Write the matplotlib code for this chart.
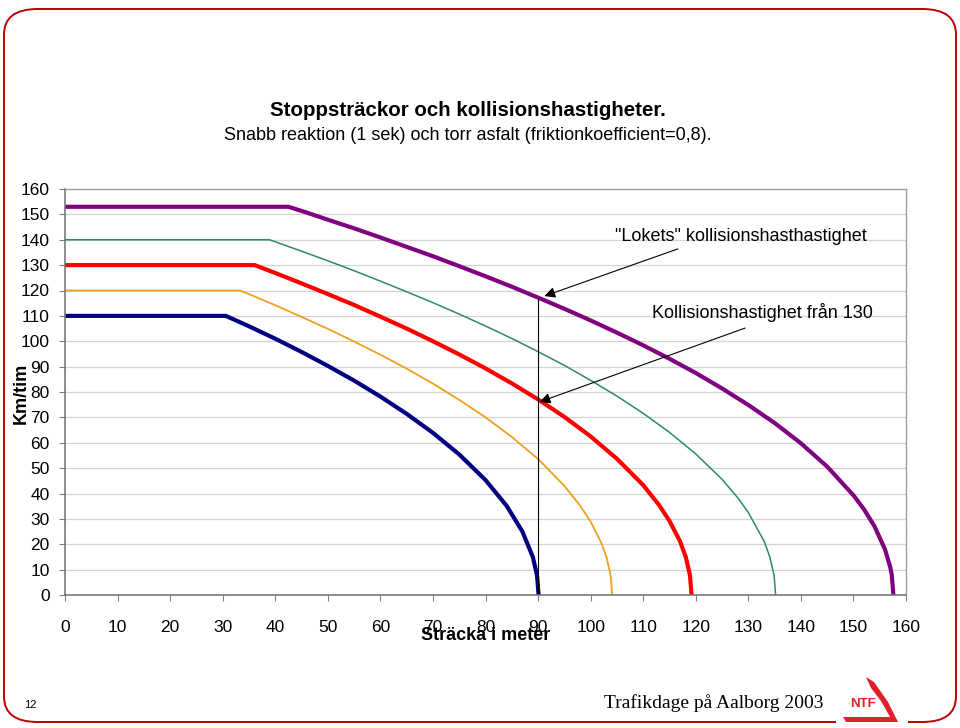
import matplotlib
matplotlib.use("Agg")
import matplotlib.pyplot as plt
from matplotlib.patches import FancyBboxPatch, Rectangle, Polygon

plt.rcParams['font.family'] = ['Liberation Sans', 'DejaVu Sans']

# ---- data ----
navy_x = [0, 30.6, 35, 40, 45, 50, 55, 60, 65, 70, 75, 80, 84, 87, 89, 89.8, 90.1]
navy_y = [110, 110, 105.9, 101.0, 95.8, 90.3, 84.5, 78.2, 71.4, 63.9, 55.4, 45.3, 35.2, 25.1, 15.0, 7.8, 0]

orange_x = [0, 33.3, 36, 40, 45, 50, 55, 60, 65, 70, 75, 80, 85, 90, 95, 98, 100, 102, 103, 103.8, 104.1]
orange_y = [120, 120, 117.7, 114.2, 109.6, 104.9, 99.9, 94.7, 89.2, 83.3, 76.9, 70.0, 62.3, 53.6, 43.0, 35.2, 28.9, 20.7, 15.0, 7.8, 0]

red_x = [0, 36.1, 40, 45, 50, 55, 60, 65, 70, 75, 80, 85, 90, 95, 100, 105, 110, 113, 115, 117, 118.1, 118.9, 119.2]
red_y = [130, 130, 126.9, 122.8, 118.6, 114.3, 109.7, 105.0, 100.0, 94.8, 89.3, 83.4, 77.1, 70.2, 62.5, 53.7, 43.3, 35.5, 29.2, 21.2, 15.0, 7.8, 0]

green_x = [0, 38.9, 40, 45, 50, 55, 60, 65, 70, 75, 80, 85, 90, 95, 100, 105, 110, 115, 120, 125, 128, 130, 133, 134.1, 134.9, 135.2]
green_y = [140, 140, 139.2, 135.5, 131.7, 127.8, 123.7, 119.5, 115.2, 110.7, 106.0, 101.1, 95.9, 90.5, 84.6, 78.4, 71.6, 64.1, 55.6, 45.6, 38.3, 32.5, 21.2, 15.0, 7.8, 0]

purple_x = [0, 42.5, 46, 50, 55, 60, 65, 70, 75, 80, 85, 90, 95, 100, 105, 110, 115, 120, 125, 130, 135, 140, 145, 150, 152, 154, 156, 157, 157.3, 157.6]
purple_y = [153, 153, 150.7, 147.9, 144.5, 140.9, 137.2, 133.5, 129.6, 125.6, 121.5, 117.2, 112.8, 108.2, 103.4, 98.4, 93.1, 87.5, 81.4, 74.9, 67.8, 59.8, 50.6, 39.3, 33.8, 27.1, 18.0, 11.0, 7.8, 0]

collision_x = 90
loket_speed = 117.2
speed130_collision = 77.1

x_ticks = list(range(0, 161, 10))
y_ticks = list(range(0, 161, 10))

# ---- figure ----
fig = plt.figure(figsize=(9.6, 7.28), dpi=100)
W, H = 960, 728

def fx(px):
    return px / W

def fy(py):
    return 1 - py / H

# slide frame
frame = FancyBboxPatch((fx(4), fy(722)), fx(952), (718 - 5) / H,
                       boxstyle="round,pad=0,rounding_size=0.035",
                       transform=fig.transFigure, fill=False,
                       edgecolor='#C00000', linewidth=1.4)
fig.patches.append(frame)
fig.patches.append(Rectangle((fx(836), fy(728)), fx(72), 12 / H,
                             transform=fig.transFigure, facecolor='white',
                             edgecolor='none'))

ax = fig.add_axes([fx(65), fy(595), fx(906 - 65), (595 - 189) / H])

ax.plot(navy_x, navy_y, color='#000080', lw=3.0, solid_joinstyle='round')
ax.plot(orange_x, orange_y, color='#F0A020', lw=1.3)
ax.plot(red_x, red_y, color='#FF0000', lw=3.0, solid_joinstyle='round')
ax.plot(green_x, green_y, color='#2E8B60', lw=1.1)
ax.plot(purple_x, purple_y, color='#800080', lw=3.0, solid_joinstyle='round')

ax.plot([collision_x, collision_x], [0, loket_speed], color='black', lw=0.8)

ax.set_xlim(0, 160)
ax.set_ylim(0, 160)
ax.set_xticks(x_ticks)
ax.set_yticks(y_ticks)
ax.set_xticklabels([str(t) for t in x_ticks], fontsize=12.5)
ax.set_yticklabels([str(t) for t in y_ticks], fontsize=12.5)
ax.tick_params(axis='x', length=4, pad=14, color='#808080')
ax.tick_params(axis='y', length=4, pad=7, color='#808080')
ax.grid(axis='y', color='#D4D4D4', lw=0.9)
ax.set_axisbelow(True)
for s in ['left', 'bottom']:
    ax.spines[s].set_color('#707070')
    ax.spines[s].set_linewidth(1.1)
for s in ['top', 'right']:
    ax.spines[s].set_color('#A0A0A0')
    ax.spines[s].set_linewidth(1.0)

arrow = dict(arrowstyle='-|>', color='black', lw=0.8, mutation_scale=16,
             shrinkA=0, shrinkB=0)
ax.annotate('', xy=(collision_x + 1.2, loket_speed + 0.6), xytext=(116.6, 136.4),
            arrowprops=arrow)
ax.annotate('', xy=(collision_x + 0.3, speed130_collision - 1.0), xytext=(129.4, 105.2),
            arrowprops=arrow)
ax.text(104.6, 141.1, '"Lokets" kollisionshasthastighet', fontsize=13,
        ha='left', va='center')
ax.text(111.7, 111.5, 'Kollisionshastighet från 130', fontsize=13,
        ha='left', va='center')

# titles and labels
fig.text(fx(468), fy(110), 'Stoppsträckor och kollisionshastigheter.',
         fontsize=14.8, fontweight='bold', ha='center', va='center')
fig.text(fx(468), fy(135), 'Snabb reaktion (1 sek) och torr asfalt (friktionkoefficient=0,8).',
         fontsize=13, ha='center', va='center')
fig.text(fx(486), fy(636), 'Sträcka i meter', fontsize=13, fontweight='bold',
         ha='center', va='center')
fig.text(fx(21), fy(393), 'Km/tim', fontsize=13, fontweight='bold',
         ha='center', va='center', rotation=90)

# footer
fig.text(fx(30), fy(705), '12', fontsize=8, ha='center', va='center')
fig.text(fx(824), fy(703), 'Trafikdage på Aalborg 2003', fontsize=14,
         family='Liberation Serif', ha='right', va='center')
logo_pts = [(866, 677), (874, 682), (888, 702), (898, 722), (846, 722),
            (843, 717), (890, 717), (881, 701), (871, 688)]
logo = Polygon([(fx(px), fy(py)) for px, py in logo_pts],
               closed=True, transform=fig.transFigure, facecolor='#E0202A',
               edgecolor='none')
fig.patches.append(logo)
fig.text(fx(863), fy(704), 'NTF', fontsize=9.5, fontweight='bold',
         color='#E0202A', ha='center', va='center')

fig.savefig('out.png', dpi=100)
